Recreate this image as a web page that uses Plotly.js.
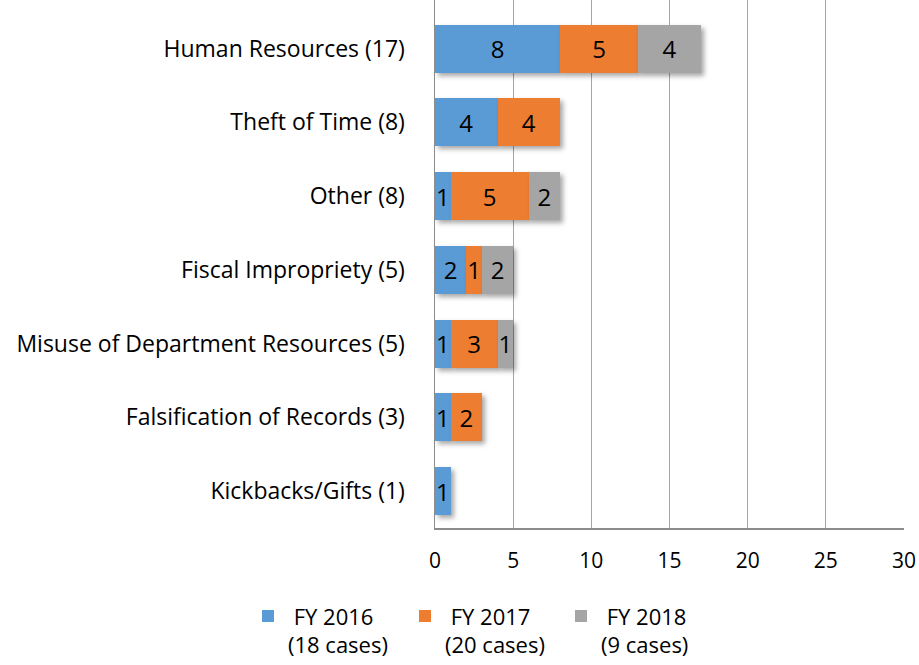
<!DOCTYPE html>
<html>
<head>
<meta charset="utf-8">
<script src="https://cdn.plot.ly/plotly-3.0.1.min.js"></script>
<style>
html,body{margin:0;padding:0;background:#fff;}
#chart{width:919px;height:665px;}
.barlayer .point path{filter: drop-shadow(3px 3px 2.5px rgba(0,0,0,0.35));}
</style>
</head>
<body>
<div id="chart"></div>
<script>
const categories = [
  "Human Resources (17)",
  "Theft of Time (8)",
  "Other (8)",
  "Fiscal Impropriety (5)",
  "Misuse of Department Resources (5)",
  "Falsification of Records (3)",
  "Kickbacks/Gifts (1)"
];
const fy2016 = [8, 4, 1, 2, 1, 1, 1];
const fy2017 = [5, 4, 5, 1, 3, 2, null];
const fy2018 = [4, null, 2, 2, 1, null, null];
const seriesNames = ["&nbsp;FY 2016<br>(18 cases)", "&nbsp;FY 2017<br>(20 cases)", "&nbsp;FY 2018<br>(9 cases)"];
const seriesColors = ["#5b9bd5", "#ed7d31", "#a5a5a5"];
const xTicks = [0, 5, 10, 15, 20, 25, 30];

const font = "'Open Sans', sans-serif";
const legendIds = ["legend", "legend2", "legend3"];
function mk(vals, i) {
  return {
    type: "bar",
    orientation: "h",
    y: categories,
    x: vals,
    name: seriesNames[i],
    legend: legendIds[i],
    marker: {color: seriesColors[i], line: {width: 0}},
    text: vals.map(v => v == null ? "" : String(v)),
    textposition: "inside",
    insidetextanchor: "middle",
    textfont: {family: font, size: 24, color: "#000"},
    constraintext: "none",
    hoverinfo: "x+y"
  };
}
const data = [mk(fy2016, 0), mk(fy2017, 1), mk(fy2018, 2)];

function legendAt(px) {
  return {
    orientation: "h",
    xref: "container", yref: "container",
    x: px / 919, xanchor: "left",
    y: 0.105, yanchor: "top",
    font: {family: font, size: 22, color: "#000"},
    valign: "top",
    bgcolor: "rgba(0,0,0,0)"
  };
}

const layout = {
  width: 919, height: 665,
  margin: {l: 435, r: 15, t: 0, b: 137},
  barmode: "stack",
  bargap: 0.35,
  paper_bgcolor: "#fff",
  plot_bgcolor: "#fff",
  font: {family: font, size: 22, color: "#000"},
  xaxis: {
    range: [0, 30],
    tickvals: xTicks,
    ticktext: xTicks.map(String),
    showgrid: true,
    gridcolor: "#a6a6a6",
    gridwidth: 1,
    zeroline: false,
    showline: true,
    linecolor: "#8c8c8c",
    linewidth: 1.5,
    ticks: "",
    ticklabelstandoff: 13,
    tickfont: {family: font, size: 21, color: "#000"}
  },
  yaxis: {
    type: "category",
    categoryorder: "array",
    categoryarray: categories,
    range: [6.5, -0.66],
    showgrid: false,
    zeroline: false,
    showline: true,
    linecolor: "#8c8c8c",
    linewidth: 1.5,
    ticks: "",
    ticklabelstandoff: 24,
    tickfont: {family: font, size: 23, color: "#000"}
  },
  showlegend: true,
  legend: legendAt(248),
  legend2: legendAt(405),
  legend3: legendAt(561)
};

Plotly.newPlot("chart", data, layout, {displayModeBar: false, staticPlot: true});
</script>
</body>
</html>
